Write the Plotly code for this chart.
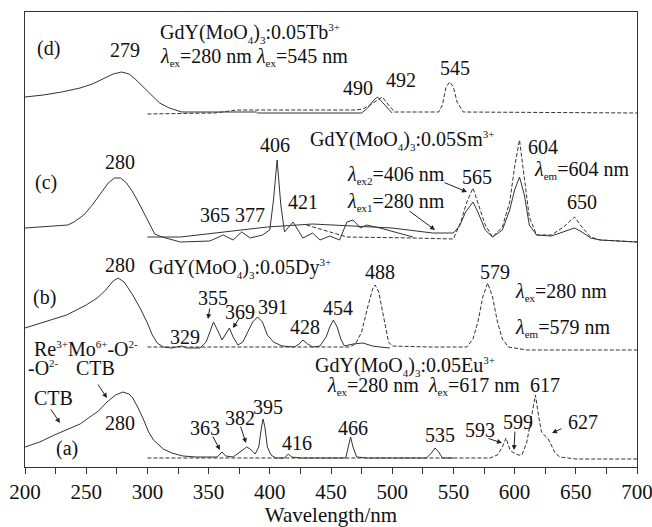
import plotly.graph_objects as go

# ---------------- data (wavelength nm, stacked intensity a.u.) ----------------
d_ex_x = [200, 215, 230, 245, 255, 265, 272, 279, 285, 290, 295, 300, 305, 310, 318, 328, 350, 389, 390, 475, 480, 485, 488, 492, 496, 500]
d_ex_y = [370, 372, 375, 379, 383, 389, 393, 395, 393, 388, 382, 376, 370, 364, 359, 355, 355, 355, 354, 354, 359, 367, 370, 365, 359, 354]

d_em_x = [300, 355, 373, 470, 476, 482, 488, 492, 497, 502, 538, 541, 544, 547, 550, 553, 558, 700]
d_em_y = [353, 354, 357, 357, 358, 362, 367, 370, 362, 355, 355, 362, 380, 385, 380, 365, 355, 354]

c_ex_x = [200, 215, 225, 235, 240, 248, 255, 262, 268, 273, 278, 283, 288, 293, 298, 302, 306, 312, 327, 351, 362, 370, 377, 384, 394, 400, 403, 406, 409, 412, 419, 427, 435, 441, 449, 457, 463, 468, 474, 479, 490, 517]
c_ex_y = [239, 240, 241, 242, 245, 252, 262, 274, 284, 289, 289, 284, 275, 264, 252, 241, 233, 230, 225, 226, 232, 227, 235, 229, 232, 237, 267, 307, 262, 235, 245, 229, 234, 227, 231, 227, 245, 247, 239, 242, 239, 230]

c_em1_x = [300, 327, 398, 435, 500, 533, 550, 555, 560, 566, 570, 576, 582, 590, 596, 600, 604, 608, 612, 618, 630, 640, 649, 655, 662, 670, 700]
c_em1_y = [230, 230, 240, 243, 239, 234, 234, 241, 255, 265, 255, 237, 230, 237, 257, 277, 290, 272, 242, 232, 231, 235, 239, 235, 229, 227, 225]

c_em2_x = [430, 463, 517, 550, 556, 561, 566, 570, 576, 582, 590, 596, 600, 604, 608, 612, 618, 630, 640, 649, 655, 662, 670, 700]
c_em2_y = [242, 230, 229, 228, 245, 265, 279, 265, 242, 230, 240, 265, 300, 327, 290, 250, 232, 232, 240, 250, 240, 230, 227, 225]

b_ex_x = [200, 215, 234, 250, 259, 266, 272, 276, 281, 288, 294, 300, 304, 308, 313, 320, 325, 328, 332, 343, 348, 351, 354, 358, 361, 364, 367, 370, 374, 378, 382, 386, 390, 394, 398, 403, 410, 420, 424, 427, 431, 435, 441, 446, 449, 452, 455, 458, 461, 468, 476, 484, 490, 498]
b_ex_y = [139, 145, 152, 162, 169, 177, 186, 189, 185, 172, 159, 144, 132, 124, 120, 119, 120, 121, 119, 119, 125, 135, 145, 135, 127, 133, 139, 130, 122, 125, 135, 145, 150, 145, 132, 125, 121, 120, 123, 127, 123, 120, 121, 130, 140, 147, 140, 128, 121, 123, 124, 121, 120, 119]

b_em_x = [300, 350, 420, 465, 470, 475, 480, 484, 486, 489, 493, 497, 500, 530, 561, 566, 570, 574, 578, 582, 586, 590, 595, 610, 700]
b_em_y = [120, 120, 120, 120, 123, 135, 160, 178, 182, 175, 150, 125, 121, 120, 120, 128, 145, 170, 184, 170, 145, 128, 120, 117, 117]

a_ex_x = [200, 212, 224, 237, 245, 253, 260, 267, 274, 280, 285, 288, 292, 297, 301, 305, 313, 320, 329, 340, 357, 361, 364, 370, 375, 379, 381, 384, 388, 391, 393, 394.5, 396, 398, 401, 405, 412, 415, 418, 425, 462, 464, 466, 468, 471, 480, 528, 532, 535, 538, 541, 550]
a_ex_y = [20, 25, 32, 39, 43, 50, 56, 65, 72, 75, 73, 69, 60, 47, 35, 27, 18, 14, 11, 10, 10, 15, 11, 10, 14, 18, 20, 18, 13, 20, 38, 48, 40, 20, 12, 9, 9, 13, 10, 9, 9, 20, 30, 20, 10, 9, 9, 14, 19, 15, 9, 9]

a_em_x = [300, 400, 500, 580, 586, 590, 593, 596, 598, 600, 603, 606, 610, 613, 617, 620, 622, 625, 627, 630, 633, 637, 650, 700]
a_em_y = [9, 9, 9, 9, 12, 20, 29, 18, 15, 14, 12, 12, 25, 45, 72, 48, 35, 31, 29, 22, 14, 10, 8, 8]

x_ticks = [200, 250, 300, 350, 400, 450, 500, 550, 600, 650, 700]

# peak labels: (text, x, y)
peak_labels = [
    ("279", 281.7, 417), ("490", 472, 379), ("492", 507, 387), ("545", 551.3, 399),
    ("280", 277.6, 305), ("406", 404.2, 322), ("365", 355.2, 252), ("377", 383.8, 252),
    ("421", 427.1, 265), ("604", 623.2, 320), ("565", 569.3, 290), ("650", 655, 265),
    ("280", 277.6, 202), ("355", 353.6, 169), ("369", 375.7, 155), ("391", 402.6, 160),
    ("329", 330.7, 130), ("428", 428.8, 140), ("454", 455.7, 159), ("488", 490, 195),
    ("579", 584, 195),
    ("280", 277.6, 44), ("363", 347.1, 39), ("382", 375.7, 49), ("395", 398.5, 60),
    ("416", 422.2, 24), ("466", 468, 39), ("535", 539, 32), ("593", 571.7, 37),
    ("599", 602.8, 45), ("617", 624.8, 82), ("627", 655.9, 45),
]
panel_labels = [("(d)", 218.8, 419), ("(c)", 217, 285), ("(b)", 216.3, 170), ("(a)", 234.3, 19)]


def sb(t):
    return "<sub><span style='font-size:11px'>" + t + "</span></sub>"


def sp(t):
    return "<sup><span style='font-size:11px'>" + t + "</span></sup>"


L = "<i>λ</i>"
GDY = "GdY(MoO" + sb("4") + ")" + sb("3") + ":0.05"
left_texts = [
    (GDY + "Tb" + sp("3+"), 308.7, 434),
    (L + sb("ex") + "=280 nm " + L + sb("ex") + "=545 nm", 308.7, 410),
    (GDY + "Sm" + sp("3+"), 431.2, 327),
    (L + sb("em") + "=604 nm", 614.2, 297),
    (L + sb("ex2") + "=406 nm", 461.4, 292),
    (L + sb("ex1") + "=280 nm", 461.4, 265),
    (GDY + "Dy" + sp("3+"), 299.7, 199),
    (L + sb("ex") + "=280 nm", 598.7, 175),
    (L + sb("em") + "=579 nm", 598.7, 139),
    ("Re" + sp("3+") + "Mo" + sp("6+") + "-O" + sp("2-"), 205.7, 118),
    ("-O" + sp("2-"), 200.5, 99),
    ("CTB", 205.7, 69),
    (GDY + "Eu" + sp("3+"), 435.3, 101),
    (L + sb("ex") + "=280 nm  " + L + sb("ex") + "=617 nm", 445.1, 81),
]
center_texts = [("CTB", 257.2, 99)]

# arrows: (tail x, tail y, head x, head y)
arrows = [
    (541.5, 285, 561.1, 275), (512.9, 257, 535, 237),
    (351.1, 160, 349.5, 148), (375.7, 150, 369.9, 139),
    (220.4, 59, 228.6, 44), (258.8, 84, 267, 69),
    (352.8, 32, 359.3, 17), (375.7, 42, 380.6, 24),
    (577.5, 29, 589.7, 24), (600.3, 37, 599.5, 17), (639.5, 39, 630.6, 34),
]

LINE = "#333333"
DASH = "4px,2px"
FONT = "Liberation Serif, Times New Roman, serif"

fig = go.Figure()
solid = [(d_ex_x, d_ex_y), (c_ex_x, c_ex_y), (c_em1_x, c_em1_y), (b_ex_x, b_ex_y), (a_ex_x, a_ex_y)]
dashed = [(d_em_x, d_em_y), (c_em2_x, c_em2_y), (b_em_x, b_em_y), (a_em_x, a_em_y)]
for xs, ys in solid:
    fig.add_trace(go.Scatter(x=xs, y=ys, mode="lines", line=dict(color=LINE, width=1), showlegend=False))
for xs, ys in dashed:
    fig.add_trace(go.Scatter(x=xs, y=ys, mode="lines", line=dict(color=LINE, width=1, dash=DASH), showlegend=False))

ann = []
for t, x, y in peak_labels + panel_labels + center_texts:
    ann.append(dict(text=t, x=x, y=y, xref="x", yref="y", showarrow=False,
                    xanchor="center", yanchor="middle", font=dict(family=FONT, size=20, color="#111")))
for t, x, y in left_texts:
    ann.append(dict(text=t, x=x, y=y, xref="x", yref="y", showarrow=False,
                    xanchor="left", yanchor="middle", font=dict(family=FONT, size=20, color="#111")))
for tx, ty, hx, hy in arrows:
    ann.append(dict(text="", x=hx, y=hy, ax=tx, ay=ty, xref="x", yref="y", axref="x", ayref="y",
                    showarrow=True, arrowhead=2, arrowsize=1, arrowwidth=1, arrowcolor="#222", standoff=0))

fig.update_layout(
    width=652, height=527, margin=dict(l=25, r=15, t=12, b=60, autoexpand=False),
    paper_bgcolor="white", plot_bgcolor="white",
    annotations=ann, showlegend=False,
    font=dict(family=FONT, size=20, color="#111"),
    xaxis=dict(range=[200, 700], tickvals=x_ticks, ticks="outside", ticklen=6, tickcolor="#333",
               minor=dict(dtick=25, tick0=200, ticks="outside", ticklen=6, tickcolor="#333"),
               showline=True, linecolor="#333", linewidth=1, mirror=True, showgrid=False, zeroline=False,
               ticklabeloverflow="allow", automargin=False,
               tickfont=dict(family=FONT, size=21, color="#111"),
               title=dict(text="Wavelength/nm", font=dict(family=FONT, size=21, color="#111"), standoff=5)),
    yaxis=dict(range=[0, 455], showticklabels=False, ticks="", showline=True, linecolor="#333",
               linewidth=1, mirror=True, showgrid=False, zeroline=False, automargin=False),
)
fig.write_html("out.html")
